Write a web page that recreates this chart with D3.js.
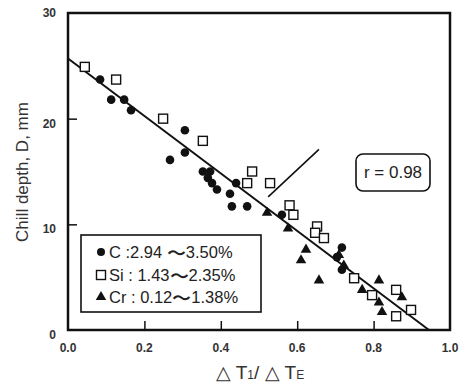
<!DOCTYPE html>
<html>
<head>
<meta charset="utf-8">
<script src="https://cdn.jsdelivr.net/npm/d3@7"></script>
<style>
  body { margin: 0; background: #fff; }
  svg { display: block; font-family: "Liberation Sans Narrow", "Liberation Sans", Arial, sans-serif; }
</style>
</head>
<body>
<svg id="chart" width="459" height="383"></svg>
<script>
// C 2.94~3.50% (filled circles)
const carbonX = [0.084, 0.113, 0.147, 0.165, 0.267, 0.306, 0.306, 0.353, 0.372, 0.366, 0.377, 0.39, 0.424, 0.44, 0.429, 0.469, 0.56, 0.717, 0.704, 0.717]
const carbonY = [23.7, 21.8, 21.8, 20.8, 16.1, 18.9, 16.8, 15.0, 15.0, 14.4, 13.9, 13.3, 12.9, 13.9, 11.7, 11.7, 10.9, 7.8, 6.9, 5.7]
// Si 1.43~2.35% (open squares)
const siliconX = [0.044, 0.126, 0.249, 0.353, 0.482, 0.469, 0.529, 0.58, 0.59, 0.652, 0.647, 0.67, 0.749, 0.796, 0.859, 0.859, 0.898]
const siliconY = [24.9, 23.7, 20.0, 17.9, 15.0, 13.9, 13.9, 11.8, 10.9, 9.8, 9.2, 8.7, 4.9, 3.3, 3.8, 1.3, 1.9]
// Cr 0.12~1.38% (filled triangles)
const chromeX = [0.521, 0.576, 0.623, 0.61, 0.657, 0.709, 0.722, 0.77, 0.814, 0.822, 0.874, 0.814]
const chromeY = [11.1, 9.6, 7.6, 6.6, 4.7, 7.1, 6.1, 3.8, 4.7, 1.7, 3.1, 2.6]

const xTicks = [0.0, 0.2, 0.4, 0.6, 0.8, 1.0]
const yTicks = [0, 10, 20, 30]
const fitLine = [[0, 25.7], [0.945, 0]]
const pointerLine = [[0.657, 17.1], [0.524, 12.6]]
// 每行：[前半, 后半]，中间是波浪线
const legendLabels = [['C :2.94 ', '3.50%'], ['Si : 1.43', '2.35%'], ['Cr : 0.12', '1.38%']]

const svg = d3.select('#chart')
const x = d3.scaleLinear().domain([0, 1]).range([68, 450])
const y = d3.scaleLinear().domain([0, 30]).range([330, 13])
const ink = '#111'

// 外框
svg.append('rect')
  .attr('x', x(0)).attr('y', y(30))
  .attr('width', x(1) - x(0)).attr('height', y(0) - y(30))
  .attr('fill', 'none').attr('stroke', ink).attr('stroke-width', 2.5)

// 刻度（内向）
svg.append('g')
  .attr('transform', `translate(0,${y(0)})`)
  .call(d3.axisBottom(x).tickValues(xTicks.slice(1, -1)).tickSizeInner(-9).tickSizeOuter(0).tickFormat(''))
  .call(g => g.select('.domain').remove())
  .call(g => g.selectAll('line').attr('stroke', ink).attr('stroke-width', 1.5))
svg.append('g')
  .attr('transform', `translate(${x(0)},0)`)
  .call(d3.axisLeft(y).tickValues(yTicks.slice(1, -1)).tickSizeInner(-9).tickSizeOuter(0).tickFormat(''))
  .call(g => g.select('.domain').remove())
  .call(g => g.selectAll('line').attr('stroke', ink).attr('stroke-width', 1.5))

// 刻度标签
svg.append('g').selectAll('text')
  .data(xTicks).enter().append('text')
  .attr('x', d => x(d)).attr('y', 352)
  .attr('text-anchor', 'middle').attr('font-size', 12).attr('font-weight', 'bold').attr('fill', '#333')
  .text(d => d.toFixed(1))
svg.append('g').selectAll('text')
  .data(yTicks).enter().append('text')
  .attr('x', 56).attr('y', d => y(d) + (d === 30 ? 4 : 9))
  .attr('text-anchor', 'end').attr('font-size', 12).attr('font-weight', 'bold').attr('fill', '#333')
  .text(d => d)

// 轴标题
svg.append('text')
  .attr('transform', 'translate(28,172) rotate(-90)')
  .attr('text-anchor', 'middle').attr('font-size', 17).attr('fill', '#333')
  .text('Chill depth, D, mm')
const xl = svg.append('text')
  .attr('x', 260).attr('y', 379)
  .attr('text-anchor', 'middle').attr('font-size', 19).attr('fill', '#333')
xl.append('tspan').text('\u25B3 T')
xl.append('tspan').attr('font-size', 12).text('1')
xl.append('tspan').text('/ \u25B3 T')
xl.append('tspan').attr('font-size', 12).text('E')

// 回归线和指示线
const line = d3.line().x(d => x(d[0])).y(d => y(d[1]))
svg.append('path').attr('d', line(fitLine)).attr('stroke', ink).attr('stroke-width', 2).attr('fill', 'none')
svg.append('path').attr('d', line(pointerLine)).attr('stroke', ink).attr('stroke-width', 1.6).attr('fill', 'none')

// 数据点
const circles = carbonX.map((v, i) => [v, carbonY[i]])
const squares = siliconX.map((v, i) => [v, siliconY[i]])
const triangles = chromeX.map((v, i) => [v, chromeY[i]])
const triPath = d3.symbol().type(d3.symbolTriangle).size(48)

svg.append('g').selectAll('rect')
  .data(squares).enter().append('rect')
  .attr('x', d => x(d[0]) - 4.5).attr('y', d => y(d[1]) - 4.5)
  .attr('width', 9).attr('height', 9)
  .attr('fill', '#fff').attr('stroke', ink).attr('stroke-width', 1.4)
svg.append('g').selectAll('circle')
  .data(circles).enter().append('circle')
  .attr('cx', d => x(d[0])).attr('cy', d => y(d[1])).attr('r', 4.3)
  .attr('fill', ink)
svg.append('g').selectAll('path')
  .data(triangles).enter().append('path')
  .attr('d', triPath)
  .attr('transform', d => `translate(${x(d[0])},${y(d[1])})`)
  .attr('fill', ink)

// 图例
const lg = svg.append('g')
lg.append('rect')
  .attr('x', 81).attr('y', 235).attr('width', 180).attr('height', 77)
  .attr('fill', '#fff').attr('stroke', ink).attr('stroke-width', 1.6)
const rowY = [252, 275, 297]
lg.append('circle').attr('cx', 101).attr('cy', rowY[0]).attr('r', 4).attr('fill', ink)
lg.append('rect').attr('x', 96.5).attr('y', rowY[1] - 4.5).attr('width', 9).attr('height', 9)
  .attr('fill', '#fff').attr('stroke', ink).attr('stroke-width', 1.4)
lg.append('path').attr('d', triPath).attr('transform', `translate(101,${rowY[2]})`).attr('fill', ink)
const lt = lg.selectAll('text.lab')
  .data(legendLabels).enter().append('text')
  .attr('class', 'lab')
  .attr('x', 109).attr('y', (d, i) => rowY[i] + 6)
  .attr('font-size', 16.5).attr('fill', '#222')
lt.append('tspan').text(d => d[0])
lt.append('tspan').attr('font-size', 19).attr('dy', 2).text('\u301C')
lt.append('tspan').attr('dy', -2).text(d => d[1])

// 相关系数
svg.append('rect')
  .attr('x', 356).attr('y', 154).attr('width', 74).attr('height', 37).attr('rx', 7)
  .attr('fill', '#fff').attr('stroke', ink).attr('stroke-width', 1.6)
svg.append('text')
  .attr('x', 393).attr('y', 178).attr('text-anchor', 'middle')
  .attr('font-size', 17).attr('fill', '#222')
  .text('r = 0.98')
</script>
</body>
</html>
